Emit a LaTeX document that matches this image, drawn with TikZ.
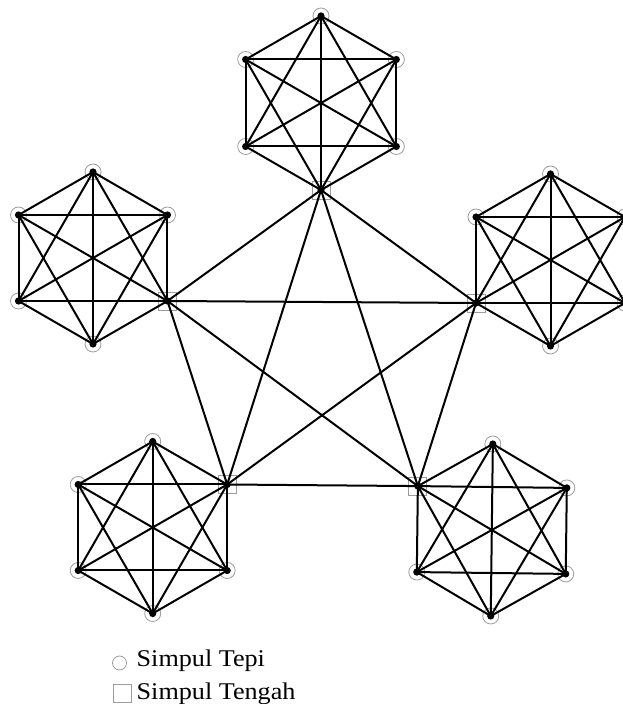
\documentclass[tikz,border=0pt]{standalone}
\usepackage{fontspec}
\setmainfont{Liberation Serif}
\newfontfamily\ketfont{Liberation Serif}[FakeStretch=1.09]
\usetikzlibrary{calc}
\definecolor{Abu}{HTML}{9C9C9C}
\tikzset{tepi/.style={circle,draw=Abu,line width=.8pt,minimum size=16pt,inner sep=0pt,path picture={\fill[black](path picture bounding box.center)circle(3.6pt);}},tengah/.style={rectangle,draw=Abu,line width=.8pt,minimum size=18pt,inner sep=0pt,path picture={\fill[black](path picture bounding box.center)circle(3.6pt);}},sisi/.style={line width=2pt,line cap=round},lambang/.style={draw=Abu,line width=.8pt,inner sep=0pt},ket/.style={font=\ketfont\fontsize{24}{28}\selectfont,anchor=base west,inner sep=0pt}}

\begin{document}
\begin{tikzpicture}[x=1pt,y=1pt]
      \useasboundingbox(0,0)rectangle(622,704);
      % five hexagons: name/centre/radius/turn/index of the middle vertex
      \foreach \h/\cx/\cy/\r/\rt/\c in {a/321/601/87/0/4,b/93/446/86/0/5,c/550.5/444/86/0/3,d/152.7/176.5/86/0/6,e/491.8/174/86/-0.7/2}{
        \foreach \i in {1,...,6}{
          \ifnum\i=\c
            \node[tengah](\h\i)at({\cx+\r*cos(\rt+30+60*\i)},{\cy+\r*sin(\rt+30+60*\i)}){};
          \else
            \node[tepi](\h\i)at({\cx+\r*cos(\rt+30+60*\i)},{\cy+\r*sin(\rt+30+60*\i)}){};
          \fi}
        \foreach \i in {1,...,6}{\foreach \j in {1,...,6}{\ifnum\i<\j \draw[sisi](\h\i.center)--(\h\j.center);\fi}}
      }
      % middle vertices joined to each other
      \foreach \u/\v in {a4/b5,a4/c3,a4/d6,a4/e2,b5/c3,b5/d6,b5/e2,c3/d6,c3/e2,d6/e2}
        \draw[sisi](\u.center)--(\v.center);
      % legend
      \node[lambang,circle,minimum size=14pt](bulat)at(119.5,41){};
      \node[lambang,rectangle,minimum size=18pt](kotak)at(122,11){};
      \node[ket](teksbulat)at(136.5,37.5){Simpul Tepi};
      \node[ket](tekskotak)at(136.5,5){Simpul Tengah};
    \end{tikzpicture}
\end{document}
